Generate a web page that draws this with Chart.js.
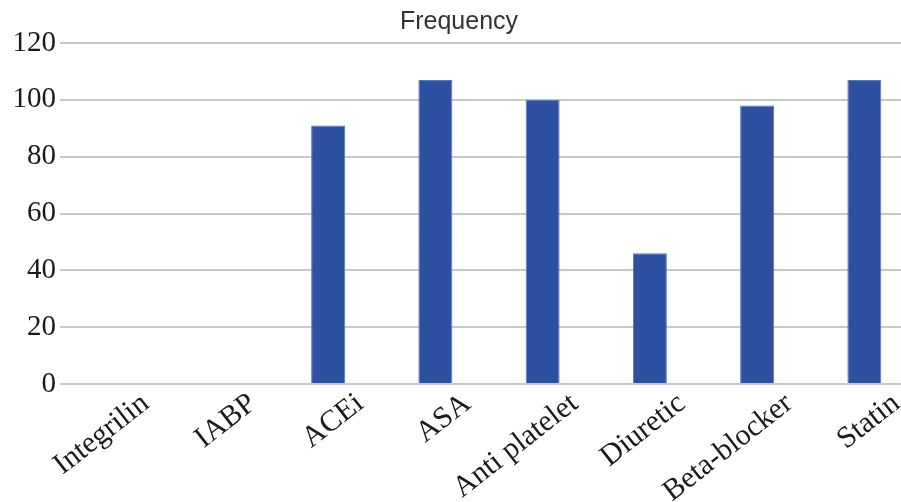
<!DOCTYPE html>
<html>
<head>
<meta charset="utf-8">
<script src="https://cdn.jsdelivr.net/npm/chart.js@4/dist/chart.umd.min.js"></script>
<style>
html,body{margin:0;padding:0;background:#fff;overflow:hidden;width:901px;height:502px;}
#wrap{position:absolute;left:0;top:0;width:918px;height:502px;}
</style>
</head>
<body>
<div id="wrap"><canvas id="c" width="918" height="502"></canvas></div>
<script>
const categories = ["Integrilin","IABP","ACEi","ASA","Anti platelet","Diuretic","Beta-blocker","Statin"];
const frequency = [0, 0, 91, 107, 100, 46, 98, 107];
const yTicks = [0, 20, 40, 60, 80, 100, 120];

new Chart(document.getElementById('c'), {
  type: 'bar',
  data: {
    labels: categories,
    datasets: [{
      label: 'Frequency',
      data: frequency,
      backgroundColor: '#2d51a0',
      borderColor: '#5877bd',
      borderWidth: 1,
      barPercentage: 0.317,
      categoryPercentage: 1.0
    }]
  },
  options: {
    responsive: false,
    animation: false,
    layout: { padding: { left: 0, right: 0, top: 0, bottom: 0 } },
    plugins: {
      legend: { display: false },
      tooltip: { enabled: false },
      title: {
        display: true,
        text: 'Frequency',
        color: '#333',
        font: { family: 'Liberation Sans', size: 25, weight: 'normal' },
        padding: { top: 7, bottom: 6 }
      }
    },
    scales: {
      x: {
        grid: { display: false, drawTicks: false },
        border: { display: false },
        ticks: {
          color: '#1a1a1a',
          font: { family: 'Liberation Serif', size: 30 },
          minRotation: 38,
          maxRotation: 38,
          autoSkip: false,
          labelOffset: 32,
          padding: 2
        },
        afterFit: (s) => { s.height = 118; }
      },
      y: {
        min: 0,
        max: 120,
        afterBuildTicks: (s) => { s.ticks = yTicks.map(v => ({ value: v })); },
        grid: { color: '#c8c8c8', lineWidth: 2, drawTicks: false },
        border: { display: false },
        ticks: {
          color: '#1a1a1a',
          font: { family: 'Liberation Serif', size: 29 },
          padding: 4
        },
        afterFit: (s) => { s.width = 60; }
      }
    }
  }
});
</script>
</body>
</html>
